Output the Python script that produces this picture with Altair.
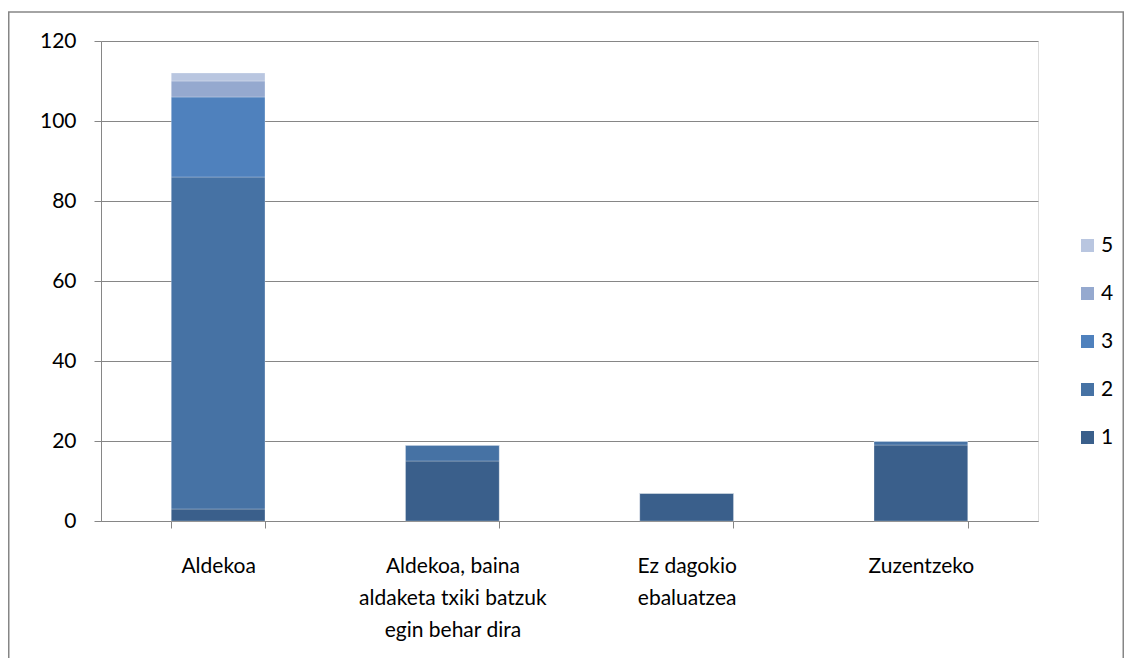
import altair as alt
import pandas as pd

categories = ["Aldekoa", "Aldekoa, baina\naldaketa txiki batzuk\negin behar dira", "Ez dagokio\nebaluatzea", "Zuzentzeko"]
series = ["1", "2", "3", "4", "5"]
values = {
    "1": [3, 15, 7, 19],
    "2": [83, 4, 0, 1],
    "3": [20, 0, 0, 0],
    "4": [4, 0, 0, 0],
    "5": [2, 0, 0, 0],
}
colors = ["#3A5F8B", "#4672A4", "#4F81BD", "#95A9CF", "#B9C6E0"]

rows = []
for s in series:
    for c, v in zip(categories, values[s]):
        rows.append({"cat": c, "series": s, "ord": int(s), "value": v})
df = pd.DataFrame(rows)

FONT = "Lato"
FS = 21
W, H = 937, 480
PL, PT, PR, PB = 93, 33, 86, 137

bars = alt.Chart(df).mark_bar(stroke="white", strokeWidth=0.5, strokeOpacity=0.5).encode(
    x=alt.X("cat:N", sort=categories, title=None,
            scale=alt.Scale(paddingInner=0.6, paddingOuter=0.3),
            axis=alt.Axis(labelAngle=0, labelExpr="split(datum.label, '\\n')",
                          tickBand="extent", tickSize=7, tickColor="#868686",
                          domainColor="#868686", labelFontSize=FS, labelFont=FONT,
                          labelColor="#000000", labelPadding=27, labelLineHeight=32,
                          labelBaseline="top", labelLimit=0)),
    y=alt.Y("value:Q", title=None, stack="zero",
            scale=alt.Scale(domain=[0, 120]),
            axis=alt.Axis(values=[0, 20, 40, 60, 80, 100, 120], tickSize=7,
                          tickColor="#868686", domainColor="#868686",
                          gridColor="#868686", gridWidth=1, labelFontSize=FS,
                          labelFont=FONT, labelColor="#000000", labelPadding=18)),
    color=alt.Color("series:N", sort=list(reversed(series)),
                    scale=alt.Scale(domain=list(reversed(series)), range=list(reversed(colors))),
                    legend=alt.Legend(title=None, orient="none", legendX=W + 39, legendY=194,
                                      symbolType="square", symbolSize=169, symbolStrokeWidth=0,
                                      labelFontSize=FS, labelFont=FONT, labelColor="#000000",
                                      rowPadding=26, labelOffset=3)),
    order=alt.Order("ord:Q", sort="ascending"),
)

border = alt.Chart(pd.DataFrame({"a": [0]})).mark_rect(
    fill=None, stroke="#868686", strokeWidth=1.5
).encode(
    x=alt.value(-PL + 0.75), x2=alt.value(W + PR - 0.75),
    y=alt.value(-PT + 4), y2=alt.value(H + PB + 20),
)

chart = alt.layer(bars, border).properties(
    width=W, height=H,
    autosize=alt.AutoSizeParams(type="none"),
    padding={"left": PL, "top": PT, "right": PR, "bottom": PB},
).configure_view(stroke=None).configure(background="white")

chart.save("out.html", embed_options={"renderer": "svg", "actions": False})
